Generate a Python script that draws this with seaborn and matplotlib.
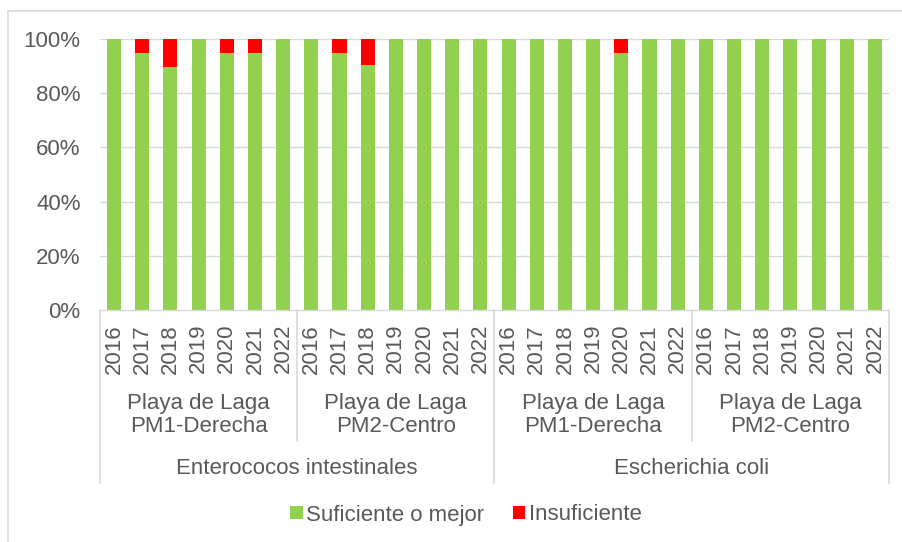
import numpy as np
import pandas as pd
import matplotlib
matplotlib.use("Agg")
import matplotlib.pyplot as plt
import matplotlib.transforms as mtransforms
from matplotlib.patches import Patch, Rectangle
import seaborn as sns

# ---- data ----
parameters = ["Enterococos intestinales", "Escherichia coli"]
points = ["Playa de Laga\nPM1-Derecha", "Playa de Laga\nPM2-Centro"]
years = ["2016", "2017", "2018", "2019", "2020", "2021", "2022"]
suf_entero_pm1 = [1.0, 0.95, 0.895, 1.0, 0.95, 0.95, 1.0]
suf_entero_pm2 = [1.0, 0.95, 0.905, 1.0, 1.0, 1.0, 1.0]
suf_ecoli_pm1 = [1.0, 1.0, 1.0, 1.0, 0.95, 1.0, 1.0]
suf_ecoli_pm2 = [1.0, 1.0, 1.0, 1.0, 1.0, 1.0, 1.0]
series_names = ["Suficiente o mejor", "Insuficiente"]

rows = []
for p_i, (param, groups) in enumerate(zip(parameters, [[suf_entero_pm1, suf_entero_pm2],
                                                       [suf_ecoli_pm1, suf_ecoli_pm2]])):
    for g_i, (pt, vals) in enumerate(zip(points, groups)):
        for y, v in zip(years, vals):
            rows.append({"param": param, "point": pt, "year": y,
                         "suf": v, "insuf": 1 - v})
df = pd.DataFrame(rows)
df["id"] = [str(i) for i in range(len(df))]
df["total"] = df["suf"] + df["insuf"]
order = list(df["id"])

GREEN = "#92D050"
RED = "#FF0000"
TEXT = "#595959"
LINE = "#D9D9D9"

sns.set_style("white")
plt.rcParams["font.family"] = ["Liberation Sans", "DejaVu Sans"]

W, H = 903, 542
fig = plt.figure(figsize=(W / 100, H / 100), dpi=100)
ax = fig.add_axes([100 / W, 1 - 310 / H, 789 / W, 271 / H])

sns.barplot(data=df, x="id", y="total", order=order, color=RED, width=0.5,
            saturation=1, linewidth=0, ax=ax, zorder=2)
sns.barplot(data=df, x="id", y="suf", order=order, color=GREEN, width=0.5,
            saturation=1, linewidth=0, ax=ax, zorder=3)

n = len(df)
ax.set_xlim(-0.5, n - 0.5)
ax.set_ylim(0, 1)
ax.set_yticks(np.arange(0, 1.01, 0.2))
ax.set_yticklabels([f"{int(round(t * 100))}%" for t in np.arange(0, 1.01, 0.2)])
ax.set_xticks(range(n))
ax.set_xticklabels(df["year"], rotation=90)
ax.tick_params(axis="both", length=0, labelsize=16, labelcolor=TEXT)
ax.tick_params(axis="x", pad=10)
ax.tick_params(axis="y", pad=14)
ax.set_xlabel("")
ax.set_ylabel("")
for s in ["top", "right", "left"]:
    ax.spines[s].set_visible(False)
ax.spines["bottom"].set_color(LINE)
ax.spines["bottom"].set_linewidth(1)
ax.spines["bottom"].set_zorder(4)
for t in np.arange(0.2, 1.01, 0.2):
    ax.axhline(t, color=LINE, lw=1, zorder=1)

# hierarchical axis labels
tr = mtransforms.blended_transform_factory(ax.transData, fig.transFigure)
def fy(px):
    return 1 - px / H

ng = len(years)
for g in range(len(parameters) * len(points)):
    c = g * ng + (ng - 1) / 2
    ax.text(c, fy(415), points[g % len(points)], transform=tr, ha="center", va="center",
            fontsize=16, color=TEXT, linespacing=1.15, clip_on=False)
for p in range(len(parameters)):
    c = p * ng * len(points) + (ng * len(points) - 1) / 2
    ax.text(c, fy(469), parameters[p], transform=tr, ha="center", va="center",
            fontsize=16, color=TEXT, clip_on=False)

# separators
for b in range(0, n + 1, ng):
    x = b - 0.5
    bottom = 483 if b % (ng * len(points)) == 0 else 441
    ax.plot([x, x], [fy(310), fy(bottom)], transform=tr, color=LINE, lw=1.2,
            clip_on=False, zorder=4)

# legend
handles = [Patch(facecolor=GREEN, edgecolor="none"), Patch(facecolor=RED, edgecolor="none")]
fig.legend(handles, series_names, loc="center", bbox_to_anchor=(466 / W, fy(515)),
           ncol=2, frameon=False, fontsize=16, labelcolor=TEXT,
           handlelength=0.55, handleheight=0.55, handletextpad=0.15,
           columnspacing=1.3)

# chart border
fig.patches.append(Rectangle((8 / W, -0.1), 1.2, fy(11) + 0.1, transform=fig.transFigure,
                             fill=False, edgecolor=LINE, lw=1.2))

fig.savefig("out.png", dpi=100)
